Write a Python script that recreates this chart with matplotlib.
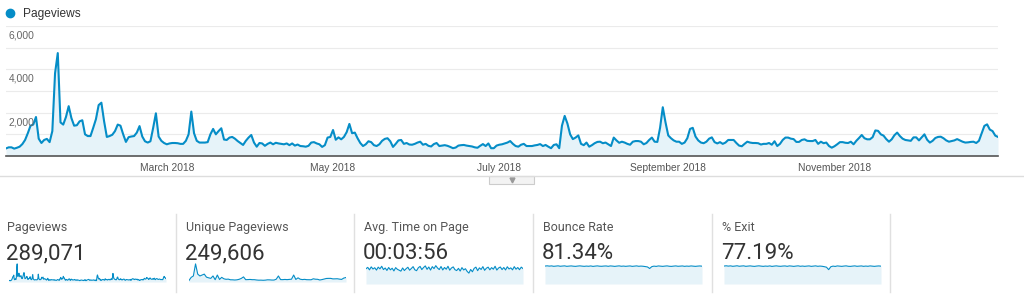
import numpy as np
import pandas as pd
import matplotlib
matplotlib.use('Agg')
import matplotlib.pyplot as plt
from matplotlib.lines import Line2D
from matplotlib.patches import Rectangle
import matplotlib.transforms as mtransforms

# ---------------- data ----------------
start_date = '2018-01-01'
pageviews = [
    350, 400, 400, 340, 380, 430, 550, 740, 1050, 1400,
    1450, 1800, 800, 600, 740, 790, 640, 1150, 3820, 4750,
    1550, 1450, 1800, 2300, 1750, 1400, 1420, 1600, 1650, 1000,
    920, 920, 1300, 1700, 2350, 2460, 1600, 880, 920, 980,
    1150, 1450, 1400, 1000, 650, 870, 900, 920, 1080, 1380,
    900, 680, 620, 680, 1300, 1970, 900, 700, 600, 540,
    580, 600, 600, 590, 560, 560, 700, 1000, 2050, 1050,
    700, 620, 620, 620, 640, 1000, 1250, 1000, 1150, 1280,
    760, 740, 850, 880, 800, 690, 600, 510, 700, 850,
    970, 620, 430, 600, 580, 470, 560, 620, 540, 610,
    580, 560, 540, 580, 500, 580, 480, 530, 460, 450,
    430, 470, 620, 640, 580, 540, 420, 500, 850, 880,
    1200, 750, 860, 770, 880, 1100, 1480, 1050, 1080, 820,
    600, 460, 540, 680, 640, 500, 460, 540, 700, 790,
    820, 680, 420, 560, 720, 740, 560, 600, 530, 520,
    560, 620, 660, 520, 560, 470, 440, 550, 600, 460,
    480, 500, 470, 420, 360, 390, 480, 500, 510, 480,
    460, 440, 400, 380, 470, 550, 460, 580, 360, 360,
    480, 520, 540, 580, 620, 690, 560, 460, 430, 520,
    560, 460, 460, 460, 490, 510, 550, 460, 510, 430,
    360, 510, 540, 360, 1400, 1850, 1500, 1000, 780, 850,
    950, 560, 500, 620, 430, 500, 590, 650, 660, 590,
    620, 540, 460, 850, 720, 610, 660, 620, 560, 520,
    660, 690, 690, 660, 540, 600, 740, 850, 660, 650,
    1300, 2250, 1550, 950, 820, 720, 660, 660, 560, 620,
    820, 1250, 1300, 900, 720, 620, 590, 660, 800, 860,
    640, 580, 640, 560, 620, 740, 740, 740, 600, 480,
    450, 560, 660, 620, 600, 600, 590, 530, 560, 560,
    600, 520, 680, 460, 560, 740, 850, 850, 800, 780,
    650, 650, 740, 770, 700, 690, 690, 740, 560, 660,
    590, 620, 460, 385, 450, 540, 640, 640, 610, 600,
    660, 540, 700, 830, 970, 820, 770, 770, 870, 1180,
    1160, 1000, 940, 780, 660, 770, 960, 1080, 920, 800,
    740, 720, 700, 860, 860, 720, 860, 1000, 750, 620,
    700, 830, 880, 890, 820, 720, 660, 690, 720, 780,
    720, 660, 620, 630, 650, 660, 600, 700, 1050, 1390,
    1460, 1220, 1150, 940, 880,
]

unique_pageviews_5d = [
    330, 1000, 1300, 3900, 1700, 1300, 1500, 1700, 1050, 900,
    780, 1300, 500, 1500, 550, 1000, 690, 580, 620, 480,
    470, 430, 470, 580, 780, 1100, 500, 520, 550, 500,
    500, 430, 390, 400, 370, 400, 470, 460, 420, 420,
    600, 1300, 520, 510, 550, 510, 560, 600, 1500, 550,
    900, 600, 520, 570, 500, 490, 480, 690, 600, 580,
    430, 520, 640, 760, 780, 780, 670, 680, 700, 620,
    560, 850, 970,
]

avg_time_4d = [
    250, 272, 232, 280, 245, 266, 228, 276, 248, 290, 236, 262, 222, 270, 232,
    258, 214, 268, 240, 226, 210, 262, 220, 250, 274, 226, 254, 284, 232, 218,
    266, 288, 236, 270, 296, 240, 278, 228, 284, 252, 300, 262, 236, 286, 230,
    270, 242, 290, 226, 262, 280, 234, 220, 256, 212, 268, 230, 250, 206, 178,
    238, 200, 256, 276, 218, 264, 238, 284, 224, 258, 276, 232, 268, 242, 290,
    228, 262, 278, 236, 270, 230, 282, 246, 264, 232, 284, 242, 270, 234, 276,
    252,
]

bounce_5d = [
    81.5, 82.6, 81.2, 82.3, 80.4, 81.4, 82.5, 80.6, 81.6, 82.4, 80.3, 81.3,
    82.2, 80.9, 80.2, 81.5, 82.4, 81.2, 80.3, 81.4, 80.6, 82.1, 80.0, 81.3,
    82.3, 80.9, 80.5, 81.5, 82.0, 80.4, 82.2, 81.3, 80.1, 81.4, 82.4, 80.6,
    81.5, 80.3, 81.3, 82.1, 80.2, 81.2, 82.3, 80.5, 81.4, 80.6, 79.2, 77.5,
    70.5, 79.0, 81.2, 80.0, 82.1, 81.1, 80.2, 81.4, 82.3, 80.6, 80.1, 81.3,
    82.2, 80.5, 81.2, 82.0, 80.3, 81.4, 80.6, 82.1, 81.1, 80.2, 81.3, 82.0,
    81.0,
]

exit_5d = [
    77.5, 78.6, 77.2, 78.3, 76.4, 77.4, 78.7, 76.6, 77.6, 78.4, 76.3, 77.3,
    78.2, 76.9, 76.1, 77.5, 78.4, 77.2, 76.2, 77.4, 76.6, 78.1, 76.0, 77.3,
    78.3, 76.9, 76.4, 77.5, 78.0, 76.3, 78.2, 77.3, 76.1, 77.4, 78.4, 76.5,
    77.5, 76.3, 77.3, 78.1, 76.2, 77.2, 78.3, 76.4, 77.4, 76.5, 74.8, 72.5,
    62.0, 74.6, 77.2, 75.9, 78.1, 77.1, 76.2, 77.4, 78.3, 76.5, 76.1, 77.3,
    78.2, 76.4, 77.2, 78.0, 76.3, 77.4, 76.5, 78.1, 77.1, 76.2, 77.3, 78.0,
    77.0,
]

series_name = 'Pageviews'
x_tick_dates = ['2018-03-01', '2018-05-01', '2018-07-01', '2018-09-01', '2018-11-01']
x_tick_labels = ['March 2018', 'May 2018', 'July 2018', 'September 2018', 'November 2018']
y_grid_values = [0, 1000, 2000, 3000, 4000, 5000, 6000]
y_label_values = [2000, 4000, 6000]
y_label_texts = ['2,000', '4,000', '6,000']

metric_titles = ['Pageviews', 'Unique Pageviews', 'Avg. Time on Page', 'Bounce Rate', '% Exit']
metric_values = ['289,071', '249,606', '00:03:56', '81.34%', '77.19%']

# ---------------- layout helpers ----------------
W, H = 1024, 301
fig = plt.figure(figsize=(W / 100, H / 100), dpi=100)
fig.patch.set_facecolor('white')


def fx(px):
    return px / W


def fy(py):
    return 1 - py / H


BLUE = '#058dc7'
FILL = '#e6f3f9'
ARIAL = ['Liberation Sans', 'DejaVu Sans']
ROBOTO = ['Roboto', 'DejaVu Sans']

dates = pd.date_range(start_date, periods=len(pageviews), freq='D')

# ---------------- main chart ----------------
ax = fig.add_axes([fx(6), fy(156), fx(998) - fx(6), fy(26) - fy(156)])
ax.fill_between(dates, pageviews, 0, color=FILL, lw=0, zorder=1)
ax.plot(dates, pageviews, color=BLUE, lw=1.5, zorder=3,
        solid_joinstyle='round', label=series_name)
ax.set_xlim(dates[0], dates[-1])
ax.set_ylim(0, 6000)
ax.set_yticks(y_grid_values)
ax.yaxis.grid(True, color='#ebebeb', lw=0.8)
ax.set_axisbelow(True)
ax.tick_params(axis='y', length=0, labelleft=False)
for s in ['top', 'right', 'left']:
    ax.spines[s].set_visible(False)
ax.spines['bottom'].set_color('#555555')
ax.spines['bottom'].set_linewidth(1.2)
ax.spines['bottom'].set_zorder(5)
ax.set_xticks(pd.to_datetime(x_tick_dates))
ax.set_xticklabels(x_tick_labels, fontfamily=ARIAL)
ax.tick_params(axis='x', length=0, pad=5, labelsize=7.4, labelcolor='#555555')

tr = mtransforms.offset_copy(ax.get_yaxis_transform(), fig=fig, x=2.5, y=-4.5, units='dots')
for v, lab in zip(y_label_values, y_label_texts):
    ax.text(0, v, lab, transform=tr, ha='left', va='top', fontsize=7.4,
            color='#666666', fontfamily=ARIAL, zorder=6)

leg_handle = Line2D([], [], color=BLUE, marker='o', linestyle='none', markersize=6)
fig.legend([leg_handle], [series_name], loc='center left',
           bbox_to_anchor=(fx(4), fy(14)), frameon=False, borderpad=0,
           borderaxespad=0, handlelength=1.0, handletextpad=0.6,
           prop={'family': ARIAL, 'size': 8.6}, labelcolor='#333333')

# divider line + tab
fig.add_artist(Line2D([0, 1], [fy(176), fy(176)], transform=fig.transFigure,
                      color='#dddddd', lw=1))
fig.add_artist(Rectangle((fx(489), fy(184)), fx(534) - fx(489), fy(176) - fy(184),
                         transform=fig.transFigure, facecolor='#f3f3f3',
                         edgecolor='#cccccc', lw=0.8))
fig.add_artist(Line2D([fx(511.5)], [fy(180)], transform=fig.transFigure,
                      marker='v', color='#999999', markersize=3.5, linestyle='none'))

# ---------------- metric row ----------------
col_starts = [0, 176, 354, 533, 712]
text_x = [7, 186, 364, 543, 722]
for sx in col_starts[1:] + [890]:
    fig.add_artist(Line2D([fx(sx), fx(sx)], [fy(292), fy(214)], transform=fig.transFigure,
                          color='#e0e0e0', lw=1))

for tx, title, val in zip(text_x, metric_titles, metric_values):
    fig.text(fx(tx), fy(231), title, ha='left', va='baseline', fontsize=9,
             color='#555555', fontfamily=ROBOTO)
    fig.text(fx(tx - 1), fy(259), val, ha='left', va='baseline', fontsize=16,
             color='#333333', fontfamily=ROBOTO)


def sparkline(x0, x1, y_top, y_bot, values, ymax, lw=0.8):
    sax = fig.add_axes([fx(x0), fy(y_bot), fx(x1) - fx(x0), fy(y_top) - fy(y_bot)])
    xs = np.arange(len(values))
    sax.fill_between(xs, values, 0, color=FILL, lw=0)
    sax.plot(xs, values, color=BLUE, lw=lw)
    sax.set_xlim(0, len(values) - 1)
    sax.set_ylim(0, ymax)
    sax.axis('off')
    return sax


sparkline(9, 166, 263, 282, pageviews, max(pageviews) * 1.05)
sparkline(189, 346, 263, 282, unique_pageviews_5d, max(unique_pageviews_5d) * 1.05)
sparkline(366, 523, 262, 284, avg_time_4d, 360)
sparkline(545, 702, 262, 284, bounce_5d, 100)
sparkline(724, 881, 262, 284, exit_5d, 95)

fig.savefig('out.png', dpi=100, facecolor='white')
